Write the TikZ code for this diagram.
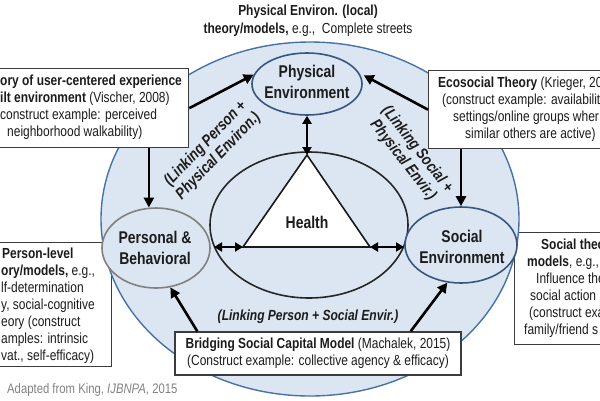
\documentclass[tikz,border=0pt]{standalone}
\usepackage{fontspec}
\setmainfont{Liberation Sans}[FakeStretch=0.82]
\usetikzlibrary{shapes.geometric,arrows.meta,calc}
\definecolor{fillblue}{RGB}{220,230,242}
\definecolor{outerline}{RGB}{70,114,165}
\definecolor{envline}{RGB}{56,86,125}
\definecolor{persline}{RGB}{128,128,128}
\definecolor{boxline}{RGB}{60,60,60}
\definecolor{txt}{RGB}{28,28,28}
\definecolor{note}{RGB}{130,130,130}
\begin{document}
\begin{tikzpicture}[x=1pt,y=-1pt,
  every node/.style={text=txt},
  boxtxt/.style={font=\fontsize{14.6}{17}\selectfont},
  ell/.style={ellipse, inner sep=0pt, fill=fillblue, line width=1.6pt},
  elltxt/.style={font=\bfseries\fontsize{17}{21}\selectfont, align=center, inner sep=0pt},
  tbox/.style={rectangle, draw=boxline, fill=white, line width=1.3pt, inner sep=0pt},
  ftxt/.style={boxtxt, align=left, anchor=west, inner sep=0pt},
  arr/.style={line width=2.6pt, draw=black, -{Triangle[length=10pt,width=10pt]}},
  darr/.style={line width=2.4pt, draw=black, {Triangle[length=8pt,width=9pt]}-{Triangle[length=8pt,width=9pt]}},
  linktxt/.style={font=\bfseries\itshape\fontsize{16}{18}\selectfont, align=center, inner sep=0pt},
]
\useasboundingbox (0,0) rectangle (600,400);
\clip (0,0) rectangle (600,400);

% boxes lying under the big ellipse
\node[tbox, minimum width=131pt, minimum height=124pt, anchor=north west] (pbox) at (-20,242) {};
\node[ftxt] (pboxt) at (1,306) {\hspace*{1pt}\textbf{Person-level}\\
\textbf{ory/models,} e.g.,\\
lf-determination\\
y, social-cognitive\\
eory (construct\\
amples: intrinsic\\
vat., self-efficacy)};
\node[tbox, minimum width=110pt, minimum height=112pt, anchor=north west] (sbox) at (514,232) {};
\node[ftxt] (sboxt) at (524,288) {\hspace*{17pt}\textbf{Social theo}\\
\hspace*{3pt}\textbf{models}, e.g.,\\
\hspace*{12pt}Influence the\\
\hspace*{6pt}social action\\
\hspace*{5pt}(construct exa\\
family/friend s};

% big ellipse
\node[ell, draw=outerline, line width=1.4pt, minimum width=418pt, minimum height=354pt] (outer) at (310,219) {};

% health
\node[ell, draw=black!85, minimum width=198pt, minimum height=146pt] (hell) at (309,225) {};
\coordinate (apex) at (307,155);
\coordinate (bl) at (243,247);
\coordinate (br) at (370,247);
\coordinate (hl) at (214,247);
\coordinate (hr) at (404,247);
\draw[line width=1.6pt, draw=black!90, fill=white] (apex) -- (bl) -- (br) -- cycle;
\node[elltxt] (healthlbl) at (307,222) {Health};

% domain ellipses
\node[ell, draw=envline, minimum width=110pt, minimum height=62pt] (phys) at (307,84) {};
\node[elltxt] (physlbl) at (307,82) {Physical\\Environment};
\node[ell, draw=persline, minimum width=108pt, minimum height=80pt] (pers) at (156,248) {};
\node[elltxt] (perslbl) at (155,248) {Personal \&\\Behavioral};
\node[ell, draw=envline, minimum width=112pt, minimum height=76pt] (soc) at (461,245) {};
\node[elltxt] (soclbl) at (462,247) {Social\\Environment};

% boxes on top
\node[tbox, minimum width=208pt, minimum height=79pt, anchor=north west] (vbox) at (-20,68) {};
\node[ftxt] (vboxt) at (0,107.5) {\textbf{ory of user-centered experience}\\
\textbf{ilt environment} (Vischer, 2008)\\
construct example: perceived\\
\hspace*{7pt}neighborhood walkability)};
\node[tbox, minimum width=192pt, minimum height=78pt, anchor=north west] (ebox) at (428,70) {};
\node[ftxt] (eboxt) at (438,109) {\textbf{Ecosocial Theory} (Krieger, 20\\
\hspace*{4pt}(construct example: availabilit\\
\hspace*{15pt}settings/online groups wher\\
\hspace*{27pt}similar others are active)};
\node[tbox, boxtxt, align=center, minimum width=286pt, minimum height=43pt] (bbox) at (318,353.5)
  {\textbf{Bridging Social Capital Model} (Machalek, 2015)\\(Construct example: collective agency \& efficacy)};

% arrows
\draw[arr] (vbox.east) -- (phys.170);
\draw[arr] (pers.100 |- vbox.south) -- (pers.100);
\draw[arr, shorten >=5pt] (ebox.west) -- (phys.12);
\draw[arr] (soc.north |- ebox.south) -- (soc.north);
\draw[arr] ($(bbox.north west)+(23,0)$) -- (pers.290);
\draw[arr] ($(bbox.north east)+(-51,0)$) -- (soc.250);
\draw[darr] (phys.south) -- (apex);
\draw[darr] (hl) -- (bl);
\draw[darr] (br) -- (hr);

% labels
\node[linktxt, rotate=46] (linkpp) at (212,150) {(Linking Person +\\Physical Environ.)};
\node[linktxt, rotate=-52] (linksp) at (410,155) {(Linking Social +\\Physical Envir.)};
\node[font=\bfseries\itshape\fontsize{14.7}{17}\selectfont, inner sep=0pt] (linkps) at (308,317) {(Linking Person + Social Envir.)};
\node[boxtxt, font=\fontsize{14.6}{18}\selectfont, align=center, inner sep=0pt] (toptxt) at (308,21)
  {\textbf{Physical Environ. (local)}\\\textbf{theory/models,} e.g.,~ Complete streets};
\node[font=\fontsize{13.8}{16}\selectfont, text=note, anchor=west, inner sep=0pt] (adapt) at (7,390)
  {Adapted from King, \textit{IJBNPA}, 2015};
\end{tikzpicture}
\end{document}
